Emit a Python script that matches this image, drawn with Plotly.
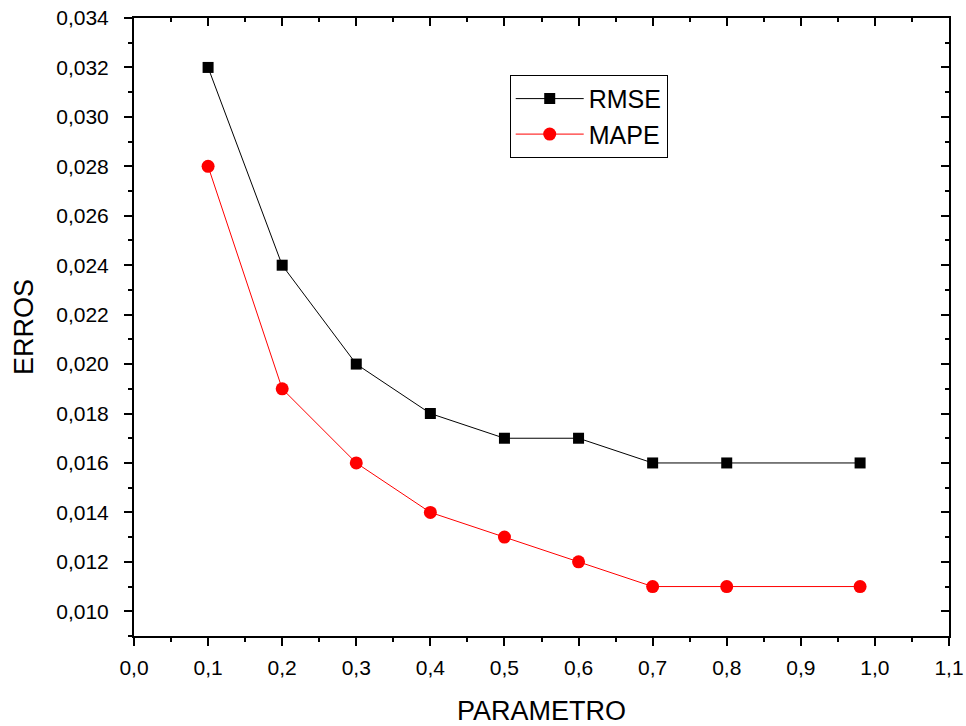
import plotly.graph_objects as go

parametro = [0.1, 0.2, 0.3, 0.4, 0.5, 0.6, 0.7, 0.8, 0.98]
rmse = [0.032, 0.024, 0.020, 0.018, 0.017, 0.017, 0.016, 0.016, 0.016]
mape = [0.028, 0.019, 0.016, 0.014, 0.013, 0.012, 0.011, 0.011, 0.011]

xr = [0.0, 1.1]
yr = [0.009, 0.034]

FONT = "Liberation Sans, Arial, sans-serif"

fig = go.Figure()
fig.add_trace(go.Scatter(x=parametro, y=rmse, name="RMSE", mode="lines+markers",
                         line=dict(color="black", width=1),
                         marker=dict(symbol="square", size=11, color="black")))
fig.add_trace(go.Scatter(x=parametro, y=mape, name="MAPE", mode="lines+markers",
                         xaxis="x2", yaxis="y2",
                         line=dict(color="red", width=1),
                         marker=dict(symbol="circle", size=13, color="red")))

axcommon = dict(showgrid=False, zeroline=False, linecolor="black", linewidth=2,
                tickcolor="black", tickwidth=2, ticklen=8, automargin=False)

fig.update_layout(
    width=966, height=726,
    margin=dict(l=134, r=17, t=18, b=90),
    paper_bgcolor="white", plot_bgcolor="white",
    separators=",.",
    font=dict(family=FONT, color="black"),
    showlegend=True,
    legend=dict(x=0.461, y=0.908, xanchor="left", yanchor="top",
                bordercolor="black", borderwidth=1, bgcolor="white",
                itemwidth=68,
                font=dict(size=25, family=FONT), tracegroupgap=0),
    xaxis=dict(range=xr, dtick=0.1, tick0=0, tickformat=".1f", ticks="outside",
               tickfont=dict(size=21), showline=True, ticklabelstandoff=4,
               minor=dict(dtick=0.05, ticklen=4, tickwidth=2, tickcolor="black", ticks="outside"),
               title=dict(text="PARAMETRO", font=dict(size=27), standoff=24), **axcommon),
    yaxis=dict(range=yr, dtick=0.002, tick0=0, tickformat=".3f", ticks="outside",
               tickfont=dict(size=21), showline=True, ticklabelstandoff=11,
               minor=dict(dtick=0.001, ticklen=4, tickwidth=2, tickcolor="black", ticks="outside"),
               title=dict(text="ERROS", font=dict(size=27), standoff=15), **axcommon),
    xaxis2=dict(range=xr, overlaying="x", side="top", dtick=0.1, tick0=0, ticks="inside",
                showticklabels=False, showline=True,
                minor=dict(dtick=0.05, ticklen=4, tickwidth=2, tickcolor="black", ticks="inside"),
                **axcommon),
    yaxis2=dict(range=yr, overlaying="y", side="right", dtick=0.002, tick0=0, ticks="inside",
                showticklabels=False, showline=True,
                minor=dict(dtick=0.001, ticklen=4, tickwidth=2, tickcolor="black", ticks="inside"),
                **axcommon),
)

fig.write_html("out.html")
